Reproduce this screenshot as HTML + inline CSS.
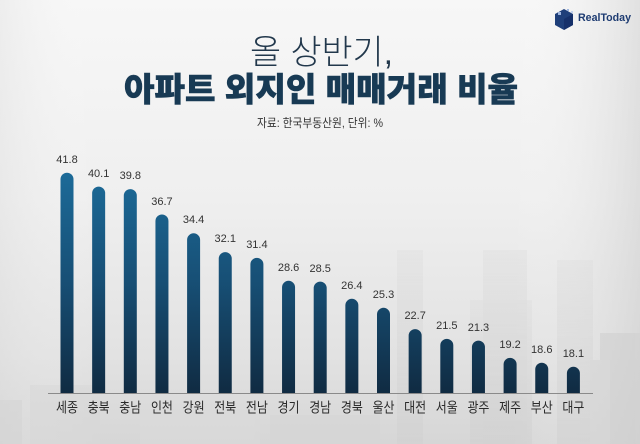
<!DOCTYPE html>
<html>
<head>
<meta charset="utf-8">
<style>
  html,body{margin:0;padding:0;background:#f2f2f2;}
  svg{display:block;}
  text{font-family:"Liberation Sans","Noto Sans CJK KR",sans-serif;}
</style>
</head>
<body>
<svg width="640" height="444" viewBox="0 0 640 444" xmlns="http://www.w3.org/2000/svg">
  <defs>
    <linearGradient id="bg" x1="0" y1="0" x2="0" y2="1">
      <stop offset="0" stop-color="#f7f7f7"/>
      <stop offset="0.45" stop-color="#efefef"/>
      <stop offset="0.8" stop-color="#e2e2e2"/>
      <stop offset="1" stop-color="#d6d6d6"/>
    </linearGradient>
    <linearGradient id="side" x1="0" y1="0" x2="1" y2="0">
      <stop offset="0" stop-color="#dcdcdc" stop-opacity="0.35"/>
      <stop offset="0.15" stop-color="#ffffff" stop-opacity="0"/>
      <stop offset="0.8" stop-color="#ffffff" stop-opacity="0"/>
      <stop offset="1" stop-color="#cfcfcf" stop-opacity="0.55"/>
    </linearGradient>
    <linearGradient id="bar" gradientUnits="userSpaceOnUse" x1="0" y1="170" x2="0" y2="393">
      <stop offset="0" stop-color="#1c6b99"/>
      <stop offset="0.5" stop-color="#174f75"/>
      <stop offset="1" stop-color="#102b42"/>
    </linearGradient>
    <linearGradient id="fade" x1="0" y1="0" x2="0" y2="1">
      <stop offset="0" stop-color="#d8d8d8" stop-opacity="0.5"/>
      <stop offset="0.4" stop-color="#d4d4d4" stop-opacity="0.7"/>
      <stop offset="1" stop-color="#cfcfcf" stop-opacity="0.9"/>
    </linearGradient>
  </defs>

  <rect x="0" y="0" width="640" height="444" fill="url(#bg)"/>
  <rect x="0" y="0" width="640" height="444" fill="url(#side)"/>

  <!-- faint skyline -->
  <g opacity="0.55">
    <rect x="397" y="250" width="26" height="194" fill="url(#fade)"/>
    <rect x="483" y="250" width="44" height="194" fill="url(#fade)"/>
    <rect x="470" y="300" width="62" height="144" fill="url(#fade)"/>
    <rect x="557" y="260" width="36" height="184" fill="url(#fade)"/>
    <rect x="600" y="333" width="40" height="111" fill="#cfcfcf"/>
    <rect x="590" y="360" width="20" height="84" fill="#d4d4d4"/>
    <rect x="30" y="385" width="70" height="59" fill="#d8d8d8"/>
    <rect x="0" y="400" width="22" height="44" fill="#d4d4d4"/>
    <rect x="140" y="408" width="120" height="36" fill="#dadada"/>
    <rect x="270" y="415" width="110" height="29" fill="#d6d6d6"/>
  </g>

  <!-- logo -->
  <g>
    <path d="M564 9 L573 14 L573 25 L564 30 L555 25 L555 14 Z" fill="#1f3f7a"/>
    <path d="M564 19 L573 14 L573 25 L564 30 Z" fill="#16306a"/>
    <rect x="558" y="12" width="3" height="3" fill="#9fb6e0"/>
    <rect x="567" y="9" width="2" height="2" fill="#9fb6e0"/>
    <rect x="571" y="11" width="2" height="2" fill="#c3d2ee"/>
    <text x="578" y="21" font-size="11" font-weight="bold" fill="#1e3c72" textLength="53" lengthAdjust="spacingAndGlyphs">RealToday</text>
  </g>

  <!-- titles -->
  <text x="250" y="64" font-size="34" font-weight="300" fill="#22384c" textLength="143" lengthAdjust="spacingAndGlyphs">올 상반기,</text>
  <text x="124" y="101" font-size="33" font-weight="900" fill="#183a54" stroke="#183a54" stroke-width="0.6" textLength="394" lengthAdjust="spacingAndGlyphs">아파트 외지인 매매거래 비율</text>
  <text x="257" y="127" font-size="12" fill="#333" textLength="126" lengthAdjust="spacingAndGlyphs">자료: 한국부동산원, 단위: %</text>

  <!-- axis -->
  <line x1="48" y1="393.5" x2="593" y2="393.5" stroke="#8a8a8a" stroke-width="1"/>

  <!-- bars -->
  <g fill="url(#bar)">
    <path d="M60.5 393 V179.2 A6.5 6.5 0 0 1 73.5 179.2 V393 Z"/>
    <path d="M92.15 393 V193.1 A6.5 6.5 0 0 1 105.15 193.1 V393 Z"/>
    <path d="M123.8 393 V195.6 A6.5 6.5 0 0 1 136.8 195.6 V393 Z"/>
    <path d="M155.45 393 V221 A6.5 6.5 0 0 1 168.45 221 V393 Z"/>
    <path d="M187.1 393 V239.8 A6.5 6.5 0 0 1 200.1 239.8 V393 Z"/>
    <path d="M218.75 393 V258.6 A6.5 6.5 0 0 1 231.75 258.6 V393 Z"/>
    <path d="M250.4 393 V264.4 A6.5 6.5 0 0 1 263.4 264.4 V393 Z"/>
    <path d="M282.05 393 V287.3 A6.5 6.5 0 0 1 295.05 287.3 V393 Z"/>
    <path d="M313.7 393 V288.1 A6.5 6.5 0 0 1 326.7 288.1 V393 Z"/>
    <path d="M345.35 393 V305.3 A6.5 6.5 0 0 1 358.35 305.3 V393 Z"/>
    <path d="M377 393 V314.3 A6.5 6.5 0 0 1 390 314.3 V393 Z"/>
    <path d="M408.65 393 V335.6 A6.5 6.5 0 0 1 421.65 335.6 V393 Z"/>
    <path d="M440.3 393 V345.4 A6.5 6.5 0 0 1 453.3 345.4 V393 Z"/>
    <path d="M471.95 393 V347.1 A6.5 6.5 0 0 1 484.95 347.1 V393 Z"/>
    <path d="M503.6 393 V364.3 A6.5 6.5 0 0 1 516.6 364.3 V393 Z"/>
    <path d="M535.25 393 V369.2 A6.5 6.5 0 0 1 548.25 369.2 V393 Z"/>
    <path d="M566.9 393 V373.3 A6.5 6.5 0 0 1 579.9 373.3 V393 Z"/>
  </g>

  <!-- value labels -->
  <g font-size="11" fill="#333" text-anchor="middle">
    <text x="67" y="163">41.8</text>
    <text x="98.65" y="177">40.1</text>
    <text x="130.3" y="179">39.8</text>
    <text x="161.95" y="205">36.7</text>
    <text x="193.6" y="223">34.4</text>
    <text x="225.25" y="242">32.1</text>
    <text x="256.9" y="248">31.4</text>
    <text x="288.55" y="271">28.6</text>
    <text x="320.2" y="272">28.5</text>
    <text x="351.85" y="289">26.4</text>
    <text x="383.5" y="298">25.3</text>
    <text x="415.15" y="319">22.7</text>
    <text x="446.8" y="329">21.5</text>
    <text x="478.45" y="331">21.3</text>
    <text x="510.1" y="348">19.2</text>
    <text x="541.75" y="353">18.6</text>
    <text x="573.4" y="357">18.1</text>
  </g>

  <!-- category labels -->
  <g font-size="14" fill="#2a2a2a" text-anchor="middle">
    <text x="67" y="412.5" textLength="22" lengthAdjust="spacingAndGlyphs">세종</text>
    <text x="98.65" y="412.5" textLength="22" lengthAdjust="spacingAndGlyphs">충북</text>
    <text x="130.3" y="412.5" textLength="22" lengthAdjust="spacingAndGlyphs">충남</text>
    <text x="161.95" y="412.5" textLength="22" lengthAdjust="spacingAndGlyphs">인천</text>
    <text x="193.6" y="412.5" textLength="22" lengthAdjust="spacingAndGlyphs">강원</text>
    <text x="225.25" y="412.5" textLength="22" lengthAdjust="spacingAndGlyphs">전북</text>
    <text x="256.9" y="412.5" textLength="22" lengthAdjust="spacingAndGlyphs">전남</text>
    <text x="288.55" y="412.5" textLength="22" lengthAdjust="spacingAndGlyphs">경기</text>
    <text x="320.2" y="412.5" textLength="22" lengthAdjust="spacingAndGlyphs">경남</text>
    <text x="351.85" y="412.5" textLength="22" lengthAdjust="spacingAndGlyphs">경북</text>
    <text x="383.5" y="412.5" textLength="22" lengthAdjust="spacingAndGlyphs">울산</text>
    <text x="415.15" y="412.5" textLength="22" lengthAdjust="spacingAndGlyphs">대전</text>
    <text x="446.8" y="412.5" textLength="22" lengthAdjust="spacingAndGlyphs">서울</text>
    <text x="478.45" y="412.5" textLength="22" lengthAdjust="spacingAndGlyphs">광주</text>
    <text x="510.1" y="412.5" textLength="22" lengthAdjust="spacingAndGlyphs">제주</text>
    <text x="541.75" y="412.5" textLength="22" lengthAdjust="spacingAndGlyphs">부산</text>
    <text x="573.4" y="412.5" textLength="22" lengthAdjust="spacingAndGlyphs">대구</text>
  </g>
</svg>
</body>
</html>
